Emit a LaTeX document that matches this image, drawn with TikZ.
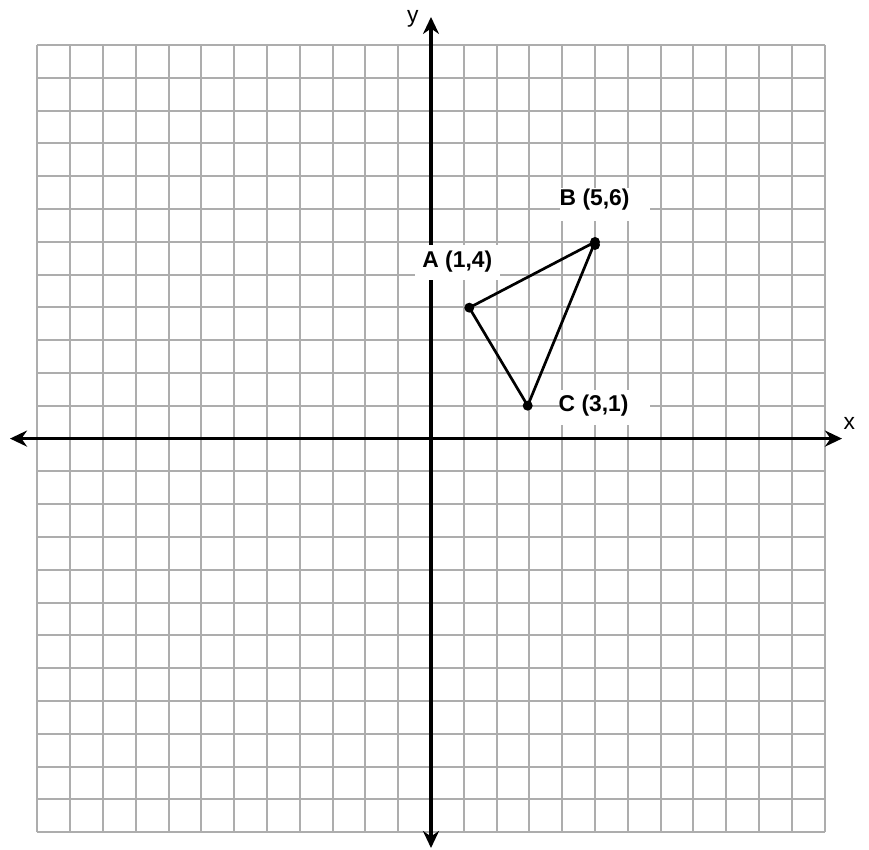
\documentclass[tikz,border=0pt]{standalone}
\usepackage{fontspec}
\setmainfont{Liberation Sans}
\usetikzlibrary{arrows.meta}
\begin{document}
\begin{tikzpicture}[
  gridline/.style={draw=black!32, line width=0.02cm},
  axisline/.style={line width=0.035cm, {Stealth[length=0.17cm,width=0.16cm]}-{Stealth[length=0.17cm,width=0.16cm]}},
  tri/.style={line width=0.027cm, line join=round},
  dot/.style={fill=black},
  ptlabel/.style={font=\fontsize{6.5pt}{7pt}\selectfont\bfseries, inner sep=0pt, anchor=base west},
  axlabel/.style={font=\fontsize{6.5pt}{7pt}\selectfont, inner sep=0pt, anchor=base west},
  blank/.style={fill=white}
]
\useasboundingbox (-4.31,-4.114) rectangle (4.38,4.386);
% grid
\foreach \i in {-12,...,12} {
  \draw[gridline] (\i*0.328,-3.936) -- (\i*0.328,3.936);
  \draw[gridline] (-3.936,\i*0.328) -- (3.936,\i*0.328);
}
% axes
\coordinate (xl) at (-4.21,0);
\coordinate (xr) at (4.11,0);
\coordinate (yt) at (0,4.216);
\coordinate (yb) at (0,-4.094);
\draw[axisline] (xl) -- (xr);
\draw[axisline] (yb) -- (yt);
\node[axlabel] (xlab) at (4.12,0.086) {x};
\node[axlabel] (ylab) at (-0.245,4.16) {y};
% label backgrounds
\fill[blank] (-0.16,1.936) rectangle (0.69,1.586);
\fill[blank] (1.29,2.506) rectangle (2.19,2.176);
\fill[blank] (1.29,0.486) rectangle (2.19,0.136);
% triangle
\coordinate (A) at (0.383,1.309);
\coordinate (B) at (1.64,1.966);
\coordinate (B2) at (1.64,1.936);
\coordinate (C) at (0.967,0.329);
\draw[tri] (A) -- (B) -- (C) -- cycle;
\fill[dot] (A) circle (0.05);
\fill[dot] (B) circle (0.05);
\fill[dot] (B2) circle (0.05);
\fill[dot] (C) circle (0.05);
% labels
\node[ptlabel] (Alab) at (-0.093,1.706) {A (1,4)};
\node[ptlabel] (Blab) at (1.28,2.326) {B (5,6)};
\node[ptlabel] (Clab) at (1.27,0.271) {C (3,1)};
\end{tikzpicture}
\end{document}
